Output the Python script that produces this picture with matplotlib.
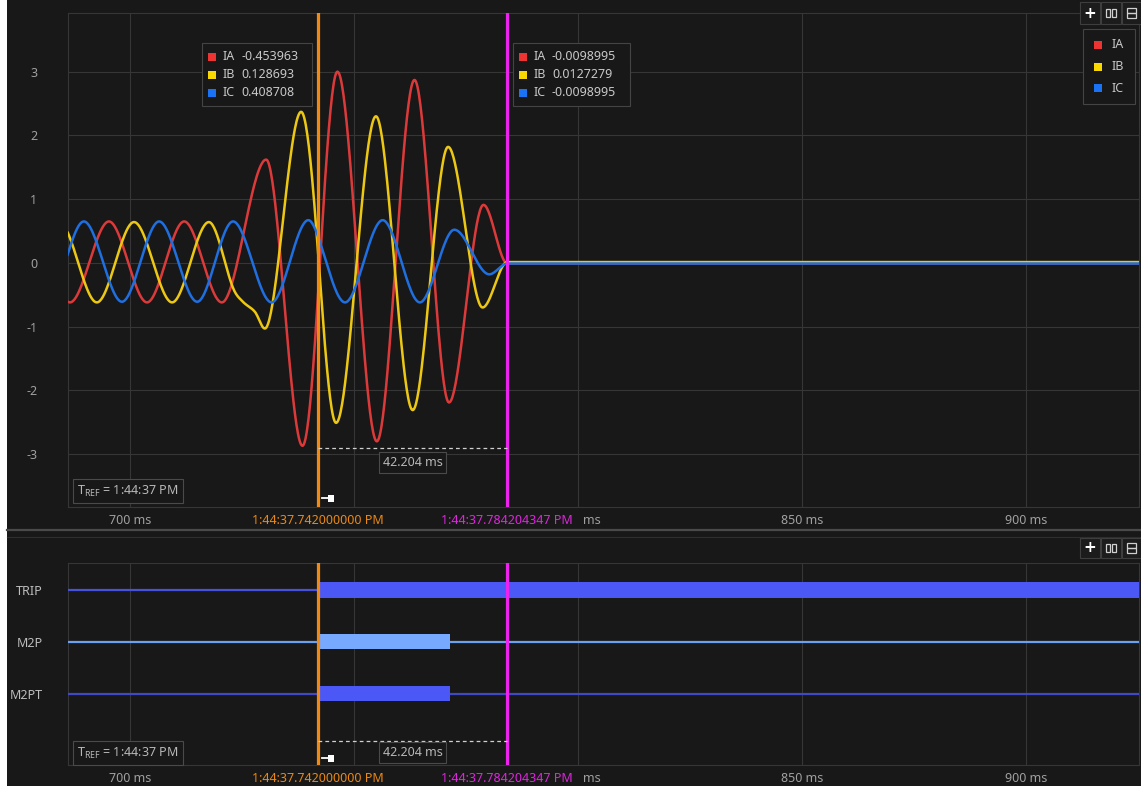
import numpy as np
import matplotlib.pyplot as plt
from matplotlib.patches import Rectangle
from matplotlib.lines import Line2D

W, H = 1141, 786
plt.rcParams['font.family'] = ['Noto Sans', 'DejaVu Sans']

# analog channels: turning points of each phase current (time in ms, amps)
ia_t = [678.4, 686.6, 695.3, 703.8, 712.1, 720.5, 730.4, 738.5, 742.0, 746.3,
        755.1, 763.5, 771.2, 778.9, 784.204347, 925.5]
ia_v = [0.65, -0.62, 0.65, -0.62, 0.65, -0.62, 1.62, -2.87, -0.453963, 3.00,
        -2.80, 2.87, -2.19, 0.91, -0.0098995, -0.0098995]
ib_t = [684.2, 692.6, 700.9, 709.4, 717.6, 723.1, 725.2, 727.9, 730.1, 738.2,
        742.0, 746.0, 754.9, 763.1, 771.0, 778.7, 784.204347, 925.5]
ib_v = [0.64, -0.62, 0.64, -0.62, 0.64, -0.41, -0.61, -0.77, -1.03, 2.37,
        0.128693, -2.51, 2.30, -2.31, 1.82, -0.70, 0.0127279, 0.0127279]
ic_t = [681.5, 689.7, 698.2, 706.5, 715.0, 723.0, 731.6, 739.8, 742.0, 748.0,
        756.4, 764.7, 772.4, 780.2, 784.204347, 925.5]
ic_v = [-0.61, 0.65, -0.61, 0.65, -0.61, 0.65, -0.62, 0.67, 0.408708, -0.62,
        0.67, -0.62, 0.52, -0.18, -0.0098995, -0.0098995]

analog_names = ['IA', 'IB', 'IC']
analog_colors = ['#dc3a3a', '#ecc814', '#1f6fe0']
legend_colors = ['#ee3333', '#f8d800', '#1a72f5']

# digital channels: pickup / dropout times (ms), None = still asserted
dig_names = ['TRIP', 'M2P', 'M2PT']
dig_on = [742.0, 742.0, 742.0]
dig_off = [None, 771.4, 771.4]
dig_line = ['#4652dc', '#6c9fee', '#4048c4']
dig_bar = ['#4c58f6', '#76a9ff', '#4c58f6']

# cursors and readouts
cursor_a = 742.0
cursor_b = 784.204347
cursor_a_text = '1:44:37.742000000 PM'
cursor_b_text = '1:44:37.784204347 PM'
readout_a = [-0.453963, 0.128693, 0.408708]
readout_b = [-0.0098995, 0.0127279, -0.0098995]
tref_text = r'T$_\mathregular{REF}$ = 1:44:37 PM'

x_ticks = [700, 750, 800, 850, 900]
# 750 and most of 800 are hidden behind the cursor time stamps
x_labels = ['700 ms', '', '', '850 ms', '900 ms']
y_ticks = [-3, -2, -1, 0, 1, 2, 3]
XMIN, XMAX = 686.16, 925.22

BG = '#181818'
GRID = '#363636'
TXT = '#a0a0a0'


def smooth(t, v):
    """Monotone cubic Hermite curve through the turning points."""
    t = np.asarray(t, float)
    v = np.asarray(v, float)
    h = np.diff(t)
    d = np.diff(v) / h
    m = np.zeros_like(v)
    for k in range(1, len(v) - 1):
        if d[k - 1] * d[k] <= 0:
            continue
        left_ext = k == 1 or d[k - 2] * d[k - 1] <= 0
        right_ext = k == len(v) - 2 or d[k] * d[k + 1] <= 0
        s = (v[k + 1] - v[k - 1]) / (t[k + 1] - t[k - 1])
        if left_ext and right_ext:
            c = (v[k + 1] + v[k - 1]) / 2
            a = abs(v[k + 1] - v[k - 1]) / 2
            r = min(abs(v[k] - c) / a, 0.99)
            s *= np.pi / 2 * np.sqrt(1 - r * r)
        lim = 3 * min(abs(d[k - 1]), abs(d[k]))
        m[k] = np.sign(s) * min(abs(s), lim)
    xs, ys = [], []
    for k in range(len(h)):
        n = max(12, int(h[k] * 6))
        s = np.linspace(0, 1, n, endpoint=False)
        h00 = 2 * s**3 - 3 * s**2 + 1
        h10 = s**3 - 2 * s**2 + s
        h01 = -2 * s**3 + 3 * s**2
        h11 = s**3 - s**2
        xs.append(t[k] + s * h[k])
        ys.append(h00 * v[k] + h10 * h[k] * m[k] + h01 * v[k + 1] + h11 * h[k] * m[k + 1])
    xs.append([t[-1]])
    ys.append([v[-1]])
    return np.concatenate(xs), np.concatenate(ys)


def fx(x):
    return x / W


def fy(y):
    return 1 - y / H


def frect(x0, y0, x1, y1, **kw):
    fig.patches.append(Rectangle((fx(x0), fy(y1)), (x1 - x0) / W, (y1 - y0) / H,
                                 transform=fig.transFigure, **kw))


def fline(xs, ys, **kw):
    fig.lines.append(Line2D([fx(x) for x in xs], [fy(y) for y in ys],
                            transform=fig.transFigure, **kw))


def buttons(y0, h):
    for x0 in (1080, 1101, 1122):
        frect(x0, y0, x0 + 20, y0 + h, facecolor='#1c1c1c', edgecolor='#3e3e3e', lw=0.8, zorder=5)
    yc = y0 + h / 2
    fig.text(fx(1090), fy(yc), '+', color='white', fontsize=11, fontweight='bold',
             ha='center', va='center', family='DejaVu Sans', zorder=6)
    for x0 in (1106, 1112):
        frect(x0, yc - 4, x0 + 4, yc + 4, facecolor='none', edgecolor='#d0d0d0', lw=0.9, zorder=6)
    for y in (yc - 5, yc):
        frect(1127, y, 1136, y + 5, facecolor='none', edgecolor='#d0d0d0', lw=0.9, zorder=6)


def readout_box(x0, y0, x1, y1, values):
    frect(x0, y0, x1, y1, facecolor=BG, edgecolor='#444444', lw=0.8, zorder=5)
    for i, (name, val) in enumerate(zip(analog_names, values)):
        y = y0 + 14 + 18 * i
        frect(x0 + 6, y - 4, x0 + 14, y + 4, facecolor=legend_colors[i], edgecolor='none', zorder=6)
        fig.text(fx(x0 + 21), fy(y), name, color='#c8c8c8', fontsize=9, va='center', zorder=6)
        fig.text(fx(x0 + 39), fy(y), f'{val:g}' if abs(val) < 0.1 else f'{val:.6f}',
                 color='#c8c8c8', fontsize=9, va='center', zorder=6)


def cursor_labels(ax, dy):
    for t, label, col in ((cursor_a, cursor_a_text, '#ec8814'),
                          (cursor_b, cursor_b_text, '#e025e0')):
        ax.annotate(label, xy=(t, 0), xycoords=('data', 'axes fraction'),
                    xytext=(0, -dy), textcoords='offset pixels', ha='center', va='center',
                    color=col, fontsize=9, annotation_clip=False, zorder=10)
    # tail of the "800 ms" tick label that peeks out past the cursor B stamp
    ax.annotate('ms', xy=(800, 0), xycoords=('data', 'axes fraction'),
                xytext=(14, -dy), textcoords='offset pixels', ha='center', va='center',
                color=TXT, fontsize=9, annotation_clip=False)


def delta_marker(ax, y, dy):
    ax.plot([cursor_a, cursor_b], [y, y], color='#d0d0d0', lw=0.9, ls=(0, (3, 2.5)), zorder=6)
    ax.annotate(f'{cursor_b - cursor_a:.3f} ms', xy=((cursor_a + cursor_b) / 2, y),
                xytext=(0, -dy), textcoords='offset pixels', ha='center', va='center',
                color='#b8b8b8', fontsize=9, zorder=7,
                bbox=dict(boxstyle='square,pad=0.3', facecolor=BG, edgecolor='#4a4a4a', lw=0.8))


def tref_box(ax, y):
    ax.annotate(tref_text, xy=(60, y), xycoords='axes pixels', ha='center', va='center',
                color='#b8b8b8', fontsize=9, zorder=7,
                bbox=dict(boxstyle='square,pad=0.35', facecolor=BG, edgecolor='#4a4a4a', lw=0.8))


def pin(y):
    fline([322, 330], [y, y], color='white', lw=1.3, zorder=8)
    frect(328, y - 3.5, 334, y + 3.5, facecolor='white', edgecolor='none', zorder=8)


def style(ax):
    ax.set_facecolor(BG)
    ax.set_xlim(XMIN, XMAX)
    for s in ax.spines.values():
        s.set_color(GRID)
        s.set_linewidth(0.8)
    ax.set_xticks(x_ticks)
    ax.set_xticklabels(x_labels)
    ax.tick_params(axis='x', length=0, pad=5, colors=TXT, labelsize=9)
    ax.grid(axis='x', color=GRID, lw=0.8)
    ax.set_axisbelow(True)


fig = plt.figure(figsize=(W / 100, H / 100), dpi=100, facecolor='white')
frect(7, 0, W, H, facecolor=BG, edgecolor='none', zorder=-10)

# --- analog panel ---
ax1 = fig.add_axes([fx(68), fy(507), fx(1139) - fx(68), fy(13) - fy(507)])
style(ax1)
ax1.set_ylim(-3.83, 3.92)
ax1.set_yticks(y_ticks)
ax1.set_yticklabels([str(v) for v in y_ticks])
ax1.tick_params(axis='y', length=0, pad=22, colors=TXT, labelsize=9)
ax1.grid(axis='y', color=GRID, lw=0.8)

for t, v, col in ((ia_t, ia_v, analog_colors[0]), (ib_t, ib_v, analog_colors[1]),
                  (ic_t, ic_v, analog_colors[2])):
    xs, ys = smooth(t, v)
    ax1.plot(xs, ys, color=col, lw=1.8, solid_capstyle='round', zorder=3)

ax1.axvline(cursor_a, color='#f08a12', lw=2.3, zorder=5)
ax1.axvline(cursor_b, color='#ee22ee', lw=2.3, zorder=5)
delta_marker(ax1, -2.91, 14)
tref_box(ax1, 16)
cursor_labels(ax1, 13)

# --- digital panel ---
ax2 = fig.add_axes([fx(68), fy(765), fx(1139) - fx(68), fy(563) - fy(765)])
style(ax2)
ax2.set_ylim(3.37, -0.52)
ax2.set_yticks(range(len(dig_names)))
ax2.set_yticklabels(dig_names)
ax2.tick_params(axis='y', length=0, pad=18, colors='#bdbdbd', labelsize=9)

for i in range(len(dig_names)):
    off = XMAX + 1 if dig_off[i] is None else dig_off[i]
    ax2.plot([XMIN, dig_on[i]], [i, i], color=dig_line[i], lw=1.6, zorder=3)
    ax2.plot([off, XMAX + 1], [i, i], color=dig_line[i], lw=1.6, zorder=3)
    ax2.barh(i, off - dig_on[i], left=dig_on[i], height=0.29, color=dig_bar[i], zorder=4)

ax2.axvline(cursor_a, color='#f08a12', lw=2.3, zorder=5)
ax2.axvline(cursor_b, color='#ee22ee', lw=2.3, zorder=5)
delta_marker(ax2, 2.90, 12)
tref_box(ax2, 12)
cursor_labels(ax2, 13)

# --- overlays in figure pixels ---
fline([7, W], [530, 530], color='#4a4a4a', lw=1.6)
fline([7, W], [537, 537], color='#2e2e2e', lw=0.8)

readout_box(202, 43, 312, 106, readout_a)
readout_box(513, 43, 630, 106, readout_b)

frect(1083, 29, 1135, 104, facecolor=BG, edgecolor='#444444', lw=0.8, zorder=5)
for i, name in enumerate(analog_names):
    y = 45 + 21.5 * i
    frect(1094, y - 4, 1102, y + 4, facecolor=legend_colors[i], edgecolor='none', zorder=6)
    fig.text(fx(1112), fy(y), name, color='#c8c8c8', fontsize=9, va='center', zorder=6)

buttons(2, 22)
buttons(538, 20)
pin(498)
pin(758)

fig.savefig('out.png', dpi=100, facecolor=fig.get_facecolor())
